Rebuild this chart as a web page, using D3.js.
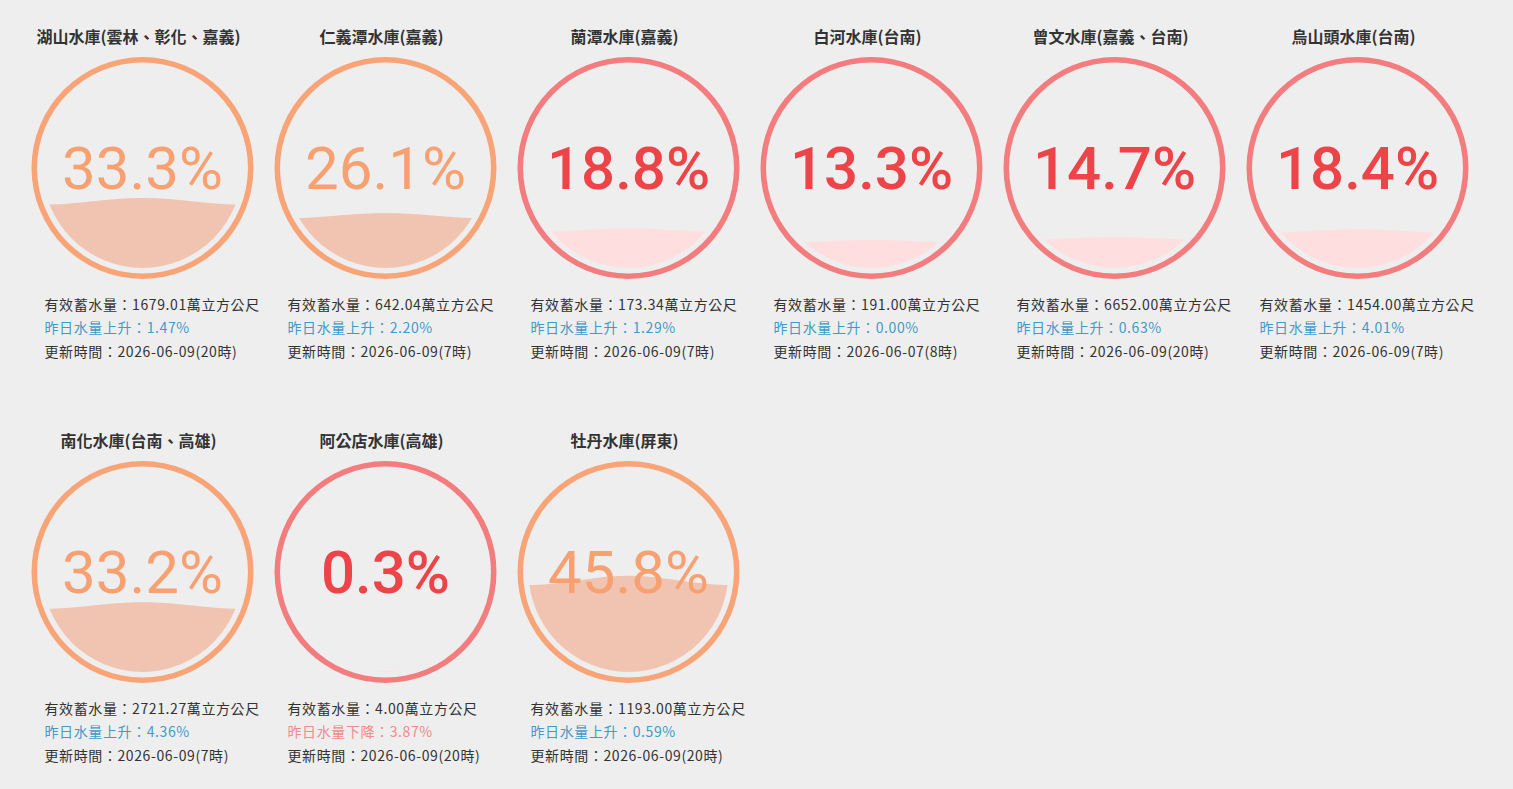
<!DOCTYPE html>
<html>
<head>
<meta charset="utf-8">
<script src="https://cdn.jsdelivr.net/npm/d3@7"></script>
<style>
  html, body { margin: 0; padding: 0; background: #eeeeee; }
  svg { display: block; }
</style>
</head>
<body>
<div id="chart"></div>
<script>
// reservoir gauges, liquid-fill style

// data
const names = [
  "湖山水庫(雲林、彰化、嘉義)", "仁義潭水庫(嘉義)", "蘭潭水庫(嘉義)",
  "白河水庫(台南)", "曾文水庫(嘉義、台南)", "烏山頭水庫(台南)",
  "南化水庫(台南、高雄)", "阿公店水庫(高雄)", "牡丹水庫(屏東)"
];
const percents = [33.3, 26.1, 18.8, 13.3, 14.7, 18.4, 33.2, 0.3, 45.8];
const storage = ["1679.01", "642.04", "173.34", "191.00", "6652.00", "1454.00", "2721.27", "4.00", "1193.00"];
const changes = [1.47, 2.20, 1.29, 0.00, 0.63, 4.01, 4.36, -3.87, 0.59];
const updated = [
  "2026-06-09(20時)", "2026-06-09(7時)", "2026-06-09(7時)",
  "2026-06-07(8時)", "2026-06-09(20時)", "2026-06-09(7時)",
  "2026-06-09(7時)", "2026-06-09(20時)", "2026-06-09(20時)"
];

const data = names.map((n, i) => ({
  name: n, pct: percents[i], storage: storage[i], change: changes[i], time: updated[i]
}));

const W = 1513, H = 789;
const perRow = 6;
const radius = 111;
const ringW = radius * 0.05;
const fillR = radius - ringW * 2;

// colour scheme by level
const palette = d3.scaleThreshold()
  .domain([20])
  .range([
    { ring: "#f37c7e", text: "#ec4448", wave: "#ffdedf", weight: 500 },
    { ring: "#f8a477", text: "#f7a072", wave: "#f0c4b0", weight: 400 }
  ]);

const col = d3.scaleBand().domain(d3.range(perRow)).range([21, 21 + 243 * perRow]);
const row = d3.scaleBand().domain(d3.range(2)).range([0, 808]);

// fill level inside the inner circle
const levelY = d3.scaleLinear().domain([0, 100]).range([fillR, -fillR]);
const waveAmp = d3.scaleLinear().domain([0, 50, 100]).range([0, fillR * 0.05, 0]);

const svg = d3.select("#chart").append("svg")
  .attr("width", W).attr("height", H)
  .attr("viewBox", `0 0 ${W} ${H}`);

const cells = svg.selectAll("g.cell")
  .data(data)
  .join("g")
  .attr("class", "cell")
  .attr("transform", (d, i) => `translate(${col(i % perRow) + col.bandwidth() / 2},${row(Math.floor(i / perRow))})`);

// title
cells.append("text")
  .attr("x", -4).attr("y", 37).attr("dy", "0.35em")
  .attr("text-anchor", "middle")
  .style("font-family", "'Noto Sans CJK TC', 'Noto Sans', sans-serif")
  .style("font-size", "16px")
  .style("font-weight", "bold")
  .style("fill", "#333")
  .text(d => d.name);

const gauge = cells.append("g").attr("transform", "translate(0,168)");

// ring
gauge.append("path")
  .attr("d", d3.arc()({ innerRadius: radius - ringW, outerRadius: radius, startAngle: 0, endAngle: 2 * Math.PI }))
  .attr("fill", d => palette(d.pct).ring);

// wave clipped by inner circle
gauge.each(function (d, i) {
  const g = d3.select(this);
  const id = "clip" + i;
  g.append("clipPath").attr("id", id)
    .append("circle").attr("r", fillR);
  const amp = waveAmp(d.pct);
  const base = levelY(d.pct);
  const xs = d3.range(-fillR, fillR + 1, 2);
  const area = d3.area()
    .x(x => x)
    .y0(fillR + 2)
    .y1(x => base - amp * Math.cos(2 * Math.PI * x / (fillR * 2)))
    .curve(d3.curveBasis);
  g.append("path")
    .attr("clip-path", `url(#${id})`)
    .attr("d", area(xs))
    .attr("fill", palette(d.pct).wave);
});

// percent label
gauge.append("text")
  .attr("text-anchor", "middle")
  .attr("y", 0).attr("dy", "0.355em")
  .style("font-family", "Roboto, 'Noto Sans', sans-serif")
  .style("font-size", "60px")
  .style("font-weight", d => palette(d.pct).weight)
  .style("fill", d => palette(d.pct).text)
  .text(d => d.pct.toFixed(1) + "%");

// info lines
const info = cells.append("g")
  .attr("transform", "translate(-98,0)")
  .style("font-family", "'Noto Sans CJK TC', 'Noto Sans', sans-serif")
  .style("font-size", "14px")
  .style("letter-spacing", "0.6px");

info.append("text")
  .attr("y", 305).attr("dy", "0.35em")
  .style("fill", "#333")
  .text(d => `有效蓄水量：${d.storage}萬立方公尺`);

info.append("text")
  .attr("y", 328).attr("dy", "0.35em")
  .style("fill", d => d.change < 0 ? "#f08a8c" : "#3f9bc9")
  .text(d => `昨日水量${d.change < 0 ? "下降" : "上升"}：${Math.abs(d.change).toFixed(2)}%`);

info.append("text")
  .attr("y", 352).attr("dy", "0.35em")
  .style("fill", "#333")
  .text(d => `更新時間：${d.time}`);
</script>
</body>
</html>
